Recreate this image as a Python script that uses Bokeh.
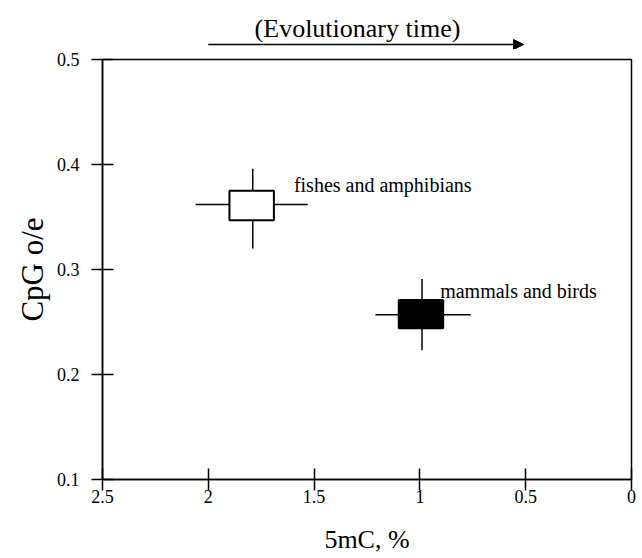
from bokeh.plotting import figure
from bokeh.layouts import column
from bokeh.models import Range1d, FixedTicker, Arrow, NormalHead, ColumnDataSource
from bokeh.core.properties import value
from bokeh.embed import file_html
from bokeh.resources import INLINE

groups = ["fishes and amphibians", "mammals and birds"]
x_center = [1.79, 0.99]
y_center = [0.362, 0.257]
box_x_hi = [1.90, 1.10]
box_x_lo = [1.69, 0.89]
box_y_lo = [0.347, 0.244]
box_y_hi = [0.375, 0.271]
bar_x_hi = [2.06, 1.21]
bar_x_lo = [1.53, 0.76]
bar_y_lo = [0.320, 0.223]
bar_y_hi = [0.396, 0.291]
fills = ["white", "black"]
x_ticks = [2.5, 2, 1.5, 1, 0.5, 0]
y_ticks = [0.1, 0.2, 0.3, 0.4, 0.5]
header = "(Evolutionary time)"

FONT = "Liberation Serif"
W = 642
HEAD_H = 49

xr = Range1d(2.5, 0)

src = ColumnDataSource(dict(
    name=groups, xc=x_center, yc=y_center,
    bxh=box_x_hi, bxl=box_x_lo, byl=box_y_lo, byh=box_y_hi,
    exh=bar_x_hi, exl=bar_x_lo, eyl=bar_y_lo, eyh=bar_y_hi,
    fill=fills, dx=[20, -3], dy=[-6, -9],
))

# header figure holding the title and the arrow
h = figure(width=W, height=HEAD_H, x_range=xr, y_range=Range1d(0, HEAD_H),
           output_backend="svg", toolbar_location=None,
           min_border_left=102, min_border_right=11, min_border_top=0, min_border_bottom=0)
h.axis.visible = False
h.grid.visible = False
h.outline_line_color = None
h.text(x=[1.295], y=[21], text=[header], text_font=value(FONT), text_font_size="26px",
       text_align="center", text_baseline="middle", text_color="black")
h.add_layout(Arrow(x_start=2.0, y_start=5, x_end=0.51, y_end=5,
                   line_width=1.5, line_color="black",
                   end=NormalHead(size=10, fill_color="black", line_color="black")))

p = figure(width=W, height=509, x_range=xr, y_range=Range1d(0.1, 0.5),
           output_backend="svg", toolbar_location=None,
           min_border_left=102, min_border_right=11, min_border_top=10, min_border_bottom=79)
p.grid.visible = False
p.outline_line_color = "black"
p.outline_line_width = 1.5

for ax in (p.xaxis[0], p.yaxis[0]):
    ax.axis_line_width = 1.5
    ax.major_tick_line_width = 1.5
    ax.major_tick_in = 11
    ax.major_tick_out = 11
    ax.minor_tick_line_color = None
    ax.major_label_text_font = FONT
    ax.major_label_text_font_size = "18px"
    ax.major_label_text_color = "black"
    ax.axis_label_text_font = FONT
    ax.axis_label_text_font_style = "normal"
    ax.axis_label_text_color = "black"

p.xaxis[0].ticker = FixedTicker(ticks=x_ticks)
p.yaxis[0].ticker = FixedTicker(ticks=y_ticks)
p.xaxis[0].major_label_standoff = -1
p.yaxis[0].major_label_standoff = 12
p.xaxis[0].axis_label = "5mC, %"
p.yaxis[0].axis_label = "CpG o/e"
p.xaxis[0].axis_label_text_font_size = "26px"
p.yaxis[0].axis_label_text_font_size = "31px"
p.xaxis[0].axis_label_standoff = 19
p.yaxis[0].axis_label_standoff = 4

p.segment(x0="exh", y0="yc", x1="exl", y1="yc", source=src, line_color="black", line_width=1.5)
p.segment(x0="xc", y0="eyl", x1="xc", y1="eyh", source=src, line_color="black", line_width=1.5)
p.quad(left="bxh", right="bxl", bottom="byl", top="byh", source=src,
       fill_color="fill", line_color="black", line_width=2)
p.text(x="bxl", y="byh", text="name", source=src, x_offset="dx", y_offset="dy",
       text_font=value(FONT), text_font_size="20px", text_baseline="middle", text_align="left",
       text_color="black")

layout = column(h, p, spacing=0)
open("out.html", "w").write(file_html(layout, INLINE))
